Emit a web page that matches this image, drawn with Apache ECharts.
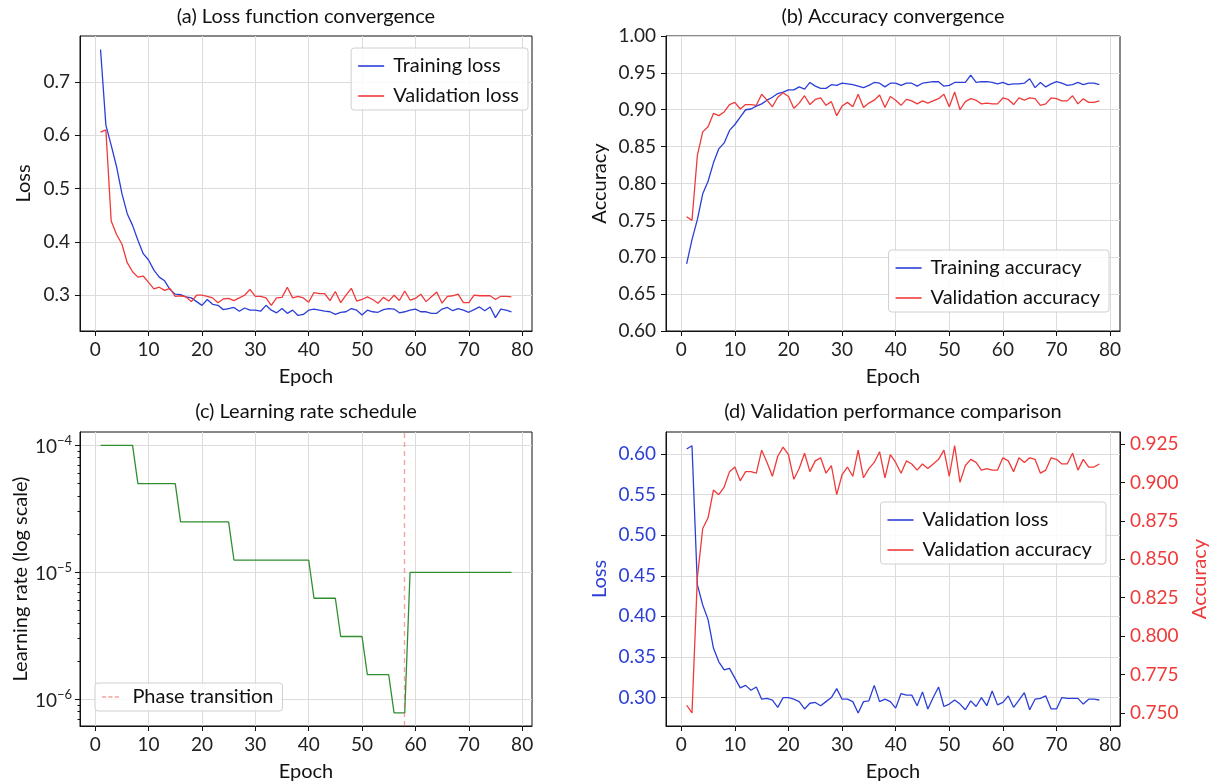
<!DOCTYPE html>
<html>
<head>
<meta charset="utf-8">
<script src="https://cdn.jsdelivr.net/npm/echarts@6/dist/echarts.min.js"></script>
<style>
html, body { margin: 0; background: #fff; }
#main { width: 1214px; height: 784px; }
</style>
</head>
<body>
<div id="main"></div>
<script>
// epochs 1..78
const epochs = Array.from({ length: 78 }, (_, i) => i + 1)

const trainLoss = [
  0.761, 0.619, 0.581, 0.541, 0.491, 0.453, 0.431, 0.403, 0.378, 0.366,
  0.347, 0.334, 0.327, 0.311, 0.302, 0.301, 0.297, 0.295, 0.288, 0.281,
  0.292, 0.283, 0.281, 0.273, 0.275, 0.277, 0.270, 0.276, 0.272, 0.272,
  0.270, 0.281, 0.272, 0.267, 0.275, 0.266, 0.272, 0.262, 0.264, 0.272,
  0.274, 0.272, 0.270, 0.269, 0.264, 0.268, 0.269, 0.275, 0.272, 0.263,
  0.272, 0.269, 0.268, 0.273, 0.275, 0.274, 0.267, 0.269, 0.272, 0.274,
  0.269, 0.269, 0.266, 0.266, 0.274, 0.277, 0.271, 0.275, 0.272, 0.268,
  0.273, 0.278, 0.271, 0.278, 0.258, 0.274, 0.272, 0.269
]
const valLoss = [
  0.606, 0.610, 0.439, 0.414, 0.396, 0.361, 0.344, 0.334, 0.336, 0.324,
  0.312, 0.315, 0.309, 0.313, 0.298, 0.299, 0.297, 0.288, 0.300, 0.300,
  0.298, 0.295, 0.286, 0.293, 0.294, 0.290, 0.295, 0.300, 0.311, 0.298,
  0.298, 0.295, 0.281, 0.295, 0.296, 0.315, 0.295, 0.298, 0.295, 0.287,
  0.305, 0.303, 0.303, 0.290, 0.307, 0.286, 0.300, 0.313, 0.289, 0.292,
  0.297, 0.292, 0.285, 0.296, 0.289, 0.300, 0.290, 0.308, 0.291, 0.294,
  0.302, 0.288, 0.297, 0.306, 0.285, 0.298, 0.299, 0.302, 0.286, 0.286,
  0.300, 0.299, 0.299, 0.299, 0.292, 0.298, 0.298, 0.297
]
const trainAcc = [
  0.691, 0.724, 0.751, 0.786, 0.803, 0.828, 0.847, 0.855, 0.872, 0.880,
  0.890, 0.900, 0.901, 0.905, 0.908, 0.913, 0.917, 0.922, 0.924, 0.927,
  0.927, 0.931, 0.928, 0.937, 0.932, 0.929, 0.929, 0.934, 0.933, 0.936,
  0.935, 0.934, 0.932, 0.930, 0.933, 0.937, 0.936, 0.931, 0.936, 0.936,
  0.933, 0.936, 0.936, 0.932, 0.936, 0.937, 0.938, 0.938, 0.932, 0.933,
  0.937, 0.937, 0.937, 0.947, 0.937, 0.938, 0.938, 0.937, 0.935, 0.937,
  0.934, 0.935, 0.935, 0.936, 0.942, 0.930, 0.937, 0.931, 0.935, 0.938,
  0.936, 0.933, 0.934, 0.937, 0.934, 0.936, 0.936, 0.934
]
const valAcc = [
  0.755, 0.750, 0.838, 0.870, 0.877, 0.895, 0.892, 0.897, 0.907, 0.910,
  0.901, 0.907, 0.907, 0.906, 0.921, 0.913, 0.904, 0.917, 0.923, 0.918,
  0.902, 0.909, 0.919, 0.907, 0.914, 0.916, 0.906, 0.911, 0.892, 0.905,
  0.910, 0.904, 0.921, 0.903, 0.909, 0.913, 0.920, 0.903, 0.918, 0.913,
  0.906, 0.914, 0.912, 0.908, 0.912, 0.909, 0.912, 0.915, 0.921, 0.904,
  0.924, 0.900, 0.911, 0.915, 0.913, 0.908, 0.909, 0.908, 0.908, 0.916,
  0.914, 0.907, 0.916, 0.913, 0.916, 0.915, 0.906, 0.908, 0.916, 0.915,
  0.912, 0.912, 0.919, 0.908, 0.915, 0.910, 0.910, 0.912
]
const learningRate = [
  1e-4, 1e-4, 1e-4, 1e-4, 1e-4, 1e-4, 1e-4,
  5e-5, 5e-5, 5e-5, 5e-5, 5e-5, 5e-5, 5e-5, 5e-5,
  2.5e-5, 2.5e-5, 2.5e-5, 2.5e-5, 2.5e-5, 2.5e-5, 2.5e-5, 2.5e-5, 2.5e-5, 2.5e-5,
  1.25e-5, 1.25e-5, 1.25e-5, 1.25e-5, 1.25e-5, 1.25e-5, 1.25e-5, 1.25e-5,
  1.25e-5, 1.25e-5, 1.25e-5, 1.25e-5, 1.25e-5, 1.25e-5, 1.25e-5,
  6.25e-6, 6.25e-6, 6.25e-6, 6.25e-6, 6.25e-6,
  3.125e-6, 3.125e-6, 3.125e-6, 3.125e-6, 3.125e-6,
  1.5625e-6, 1.5625e-6, 1.5625e-6, 1.5625e-6, 1.5625e-6,
  7.8125e-7, 7.8125e-7, 7.8125e-7,
  1e-5, 1e-5, 1e-5, 1e-5, 1e-5, 1e-5, 1e-5, 1e-5, 1e-5, 1e-5,
  1e-5, 1e-5, 1e-5, 1e-5, 1e-5, 1e-5, 1e-5, 1e-5, 1e-5, 1e-5
]
const phaseEpoch = 58

// tick labels
const epochTicks = [0, 10, 20, 30, 40, 50, 60, 70, 80]
const lossTicks = [0.3, 0.4, 0.5, 0.6, 0.7]
const accTicks = [0.60, 0.65, 0.70, 0.75, 0.80, 0.85, 0.90, 0.95, 1.00]
const lrTicks = [-6, -5, -4]  // log10 of learning rate
const dLossTicks = [0.30, 0.35, 0.40, 0.45, 0.50, 0.55, 0.60]
const dAccTicks = [0.750, 0.775, 0.800, 0.825, 0.850, 0.875, 0.900, 0.925]

const FONT = 'Lato'
const TICK_FS = 19
const TEXT_FS = 20
const BLUE = '#2b3fd6'
const RED = '#f03a3a'
const GREEN = '#2f8f2f'
const LR_MIN = -6.21, LR_MAX = -3.895

const lrMinor = []
for (let k = -7; k <= -4; k++) {
  for (let m = 2; m <= 9; m++) {
    const v = k + Math.log10(m)
    if (v > LR_MIN && v < LR_MAX) lrMinor.push(v)
  }
}

const pairs = ys => epochs.map((e, i) => [e, ys[i]])

const grids = [
  { left: 80, top: 36, width: 452, height: 295 },
  { left: 666, top: 36, width: 454, height: 295 },
  { left: 80, top: 432, width: 452, height: 294 },
  { left: 666, top: 432, width: 454, height: 294 }
].map(g => Object.assign(g, { show: true, borderColor: '#111', borderWidth: 1, containLabel: false }))

const nameStyle = color => ({ fontSize: TEXT_FS, color: color || '#111', fontFamily: FONT })

function xAxis (gi) {
  return {
    type: 'value', gridIndex: gi, min: -2.85, max: 81.85, minInterval: 10, maxInterval: 10,
    name: 'Epoch', nameLocation: 'middle', nameGap: 36, nameTextStyle: nameStyle(),
    axisLine: { show: true, onZero: false, lineStyle: { color: '#111' } },
    axisTick: { show: true, length: 5, customValues: epochTicks, lineStyle: { color: '#111' } },
    axisLabel: { fontSize: TICK_FS, color: '#222', fontFamily: FONT, margin: 9, customValues: epochTicks },
    splitLine: { show: true, lineStyle: { color: '#dcdcdc', width: 1 } }
  }
}

function yAxis (gi, min, max, step, ticks, name, gap, fmt, color, extra) {
  return Object.assign({
    type: 'value', gridIndex: gi, min, max, minInterval: step, maxInterval: step,
    name, nameLocation: 'middle', nameGap: gap, nameTextStyle: nameStyle(color),
    axisLine: { show: true, onZero: false, lineStyle: { color: '#111' } },
    axisTick: { show: true, length: 5, customValues: ticks, lineStyle: { color: '#111' } },
    axisLabel: { fontSize: TICK_FS, color: color || '#222', fontFamily: FONT, margin: 10, customValues: ticks,
      formatter: fmt },
    splitLine: { show: true, lineStyle: { color: '#dcdcdc', width: 1 } }
  }, extra || {})
}

const line = (name, data, color, xi, yi) => ({
  name, type: 'line', data, xAxisIndex: xi, yAxisIndex: yi, color,
  symbol: 'none', showSymbol: false, lineStyle: { width: 1.3, color }, silent: true
})

const legendBase = {
  orient: 'vertical', icon: 'rect', itemWidth: 26, itemHeight: 1.6, itemGap: 10,
  padding: [8, 9, 4, 7], backgroundColor: 'rgba(255,255,255,0.85)',
  borderColor: '#d0d0d0', borderWidth: 1, borderRadius: 3,
  textStyle: { fontSize: TEXT_FS, color: '#111', fontFamily: FONT, padding: [0, 0, 0, 4] },
  selectedMode: false
}

const dashIcon = 'path://M0,0h5v2h-5z M8,0h5v2h-5z M16,0h5v2h-5z'

const expLabel = v => Number.isInteger(v) ? '{b|10}{e|\u2212' + (-v) + '}' : ''

const option = {
  animation: false,
  grid: grids,
  xAxis: [xAxis(0), xAxis(1), xAxis(2), xAxis(3)],
  yAxis: [
    yAxis(0, 0.2329, 0.7862, 0.1, lossTicks, 'Loss', 46, v => v.toFixed(1)),
    yAxis(1, 0.6, 1.0, 0.05, accTicks, 'Accuracy', 56, v => v.toFixed(2)),
    yAxis(2, LR_MIN, LR_MAX, 1, lrTicks, 'Learning rate (log scale)', 48, expLabel, null, {
      axisLabel: {
        color: '#222', margin: 8, customValues: lrTicks,
        formatter: expLabel,
        rich: {
          b: { fontSize: TICK_FS, fontFamily: FONT, color: '#222', verticalAlign: 'bottom' },
          e: { fontSize: 13, fontFamily: FONT, color: '#222', verticalAlign: 'top', padding: [0, 0, 10, 0] }
        }
      }
    }),
    // minor log ticks for panel (c)
    yAxis(2, LR_MIN, LR_MAX, 1, lrMinor, '', 0, () => '', null, {
      position: 'left',
      axisLine: { show: false, onZero: false },
      axisTick: { show: true, length: 2.5, customValues: lrMinor, lineStyle: { color: '#111' } },
      axisLabel: { show: false },
      splitLine: { show: false }
    }),
    yAxis(3, 0.265, 0.627, 0.05, dLossTicks, 'Loss', 56, v => v.toFixed(2), BLUE, { position: 'left' }),
    yAxis(3, 0.7415, 0.9328, 0.025, dAccTicks, 'Accuracy', 70, v => v.toFixed(3), RED, {
      position: 'right', splitLine: { show: false }
    })
  ],
  legend: [
    Object.assign({}, legendBase, { right: 686, top: 48, data: ['Training loss', 'Validation loss'] }),
    Object.assign({}, legendBase, { right: 105, top: 250, data: ['Training accuracy', 'Validation accuracy'] }),
    Object.assign({}, legendBase, { left: 95, top: 683, padding: [4, 9, 4, 7],
      data: [{ name: 'Phase transition', icon: dashIcon }] }),
    Object.assign({}, legendBase, { right: 108, top: 502, data: ['Validation loss ', 'Validation accuracy '] })
  ],
  graphic: [
    ['(a) Loss function convergence', 306, 17],
    ['(b) Accuracy convergence', 893, 17],
    ['(c) Learning rate schedule', 306, 412],
    ['(d) Validation performance comparison', 893, 412]
  ].map(([text, x, y]) => ({
    type: 'text', x, y, silent: true,
    style: { text, fontSize: TEXT_FS, fontFamily: FONT, fill: '#111', align: 'center', verticalAlign: 'middle' }
  })),
  series: [
    line('Training loss', pairs(trainLoss), BLUE, 0, 0),
    line('Validation loss', pairs(valLoss), RED, 0, 0),
    line('Training accuracy', pairs(trainAcc), BLUE, 1, 1),
    line('Validation accuracy', pairs(valAcc), RED, 1, 1),
    line('Learning rate', pairs(learningRate.map(Math.log10)), GREEN, 2, 2),
    {
      name: 'Phase transition', type: 'line', data: [], xAxisIndex: 2, yAxisIndex: 2,
      color: 'rgba(240,80,80,0.55)', symbol: 'none', silent: true,
      markLine: {
        silent: true, symbol: 'none', label: { show: false },
        lineStyle: { type: [5, 4], width: 1.3, color: 'rgba(240,80,80,0.55)' },
        data: [{ xAxis: phaseEpoch }]
      }
    },
    line('Validation loss ', pairs(valLoss), BLUE, 3, 4),
    line('Validation accuracy ', pairs(valAcc), RED, 3, 5)
  ]
}

const chart = echarts.init(document.getElementById('main'), null, { renderer: 'canvas' })
chart.setOption(option)
</script>
</body>
</html>
